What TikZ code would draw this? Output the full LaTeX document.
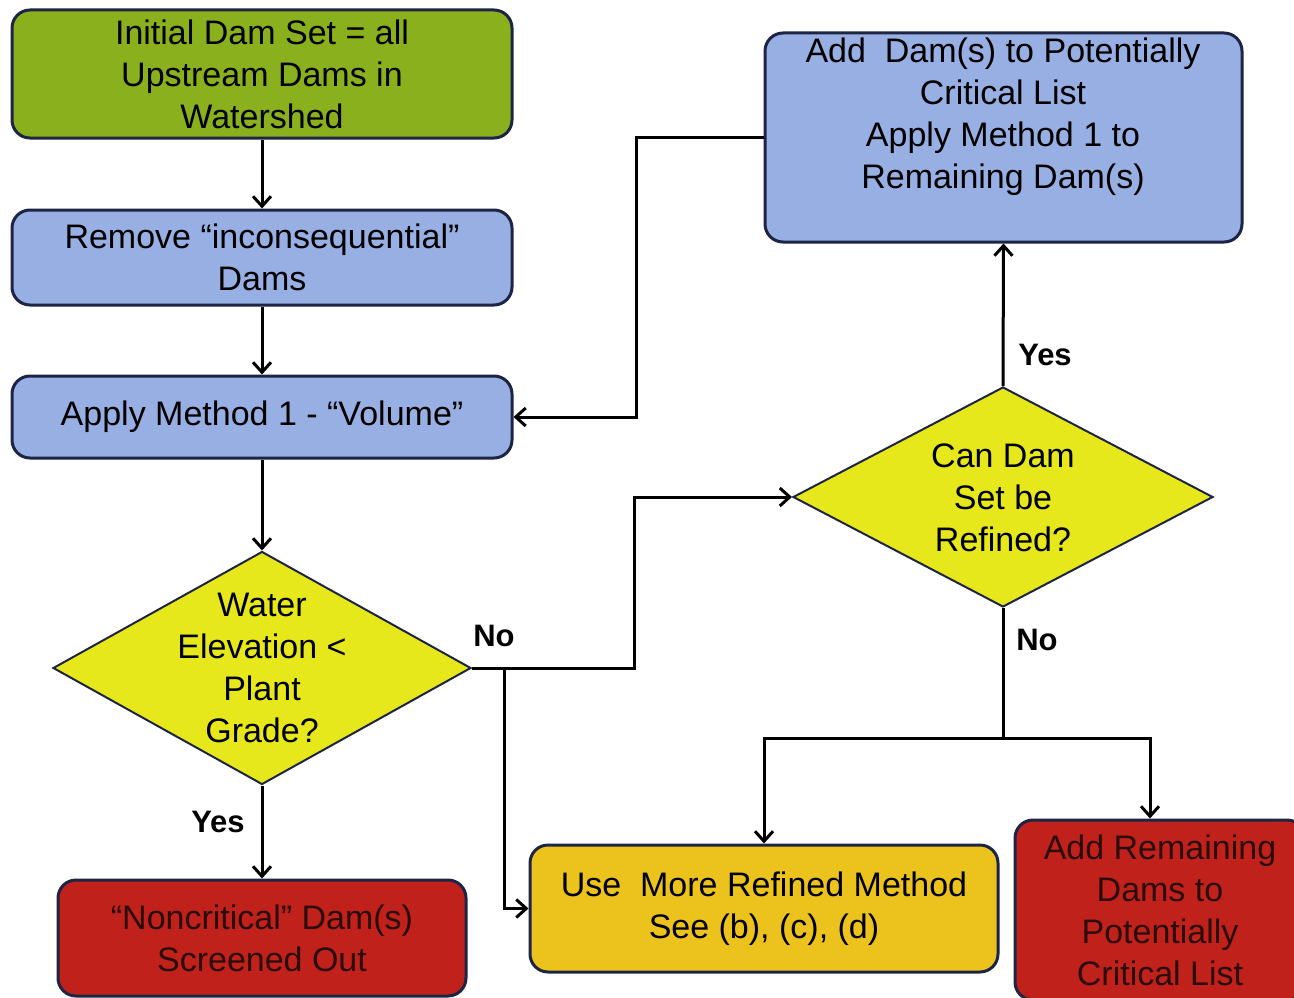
\documentclass[tikz,border=0pt]{standalone}
\usepackage{fontspec}
\setmainfont{Liberation Sans}
\usetikzlibrary{shapes.geometric,arrows.meta}
\definecolor{grn}{HTML}{8BB01E}
\definecolor{blu}{HTML}{98AFE3}
\definecolor{yel}{HTML}{E6E81C}
\definecolor{gold}{HTML}{ECC31C}
\definecolor{rd}{HTML}{C0211B}
\definecolor{bord}{HTML}{1E2444}
\definecolor{dtx}{HTML}{2A0C0A}
\begin{document}
\begin{tikzpicture}[x=1pt,y=-1pt,
  box/.style={rectangle, rounded corners=18pt, draw=bord, line width=3pt, inner sep=0pt,
    align=center, font=\fontsize{34pt}{42pt}\selectfont},
  dia/.style={diamond, draw=bord, line width=2pt, fill=yel, inner sep=0pt},
  dtext/.style={align=center, font=\fontsize{34pt}{42pt}\selectfont, inner sep=0pt},
  arr/.style={line width=3pt, -{Straight Barb[length=10pt,width=18pt]}},
  ln/.style={line width=3pt},
  lab/.style={font=\fontsize{31pt}{36pt}\selectfont\bfseries, inner sep=0pt}]
\useasboundingbox[fill=white] (0,0) rectangle (1294,998);

\node[box, fill=grn, minimum width=500pt, minimum height=128pt] (init) at (262,74)
  {Initial Dam Set = all\\Upstream Dams in\\Watershed};
\node[box, fill=blu, minimum width=500pt, minimum height=95pt] (remove) at (262,257.5)
  {Remove “inconsequential”\\Dams};
\node[box, fill=blu, minimum width=500pt, minimum height=82pt] (apply) at (262,417)
  {Apply Method 1 - “Volume”};
\node[dia, minimum width=418pt, minimum height=233pt] (d1) at (262,668) {};
\node[dtext] (d1t) at (262,668) {Water\\Elevation <\\Plant\\Grade?};
\node[box, fill=rd, minimum width=408pt, minimum height=116pt, text=dtx] (noncrit) at (262,938)
  {“Noncritical” Dam(s)\\Screened Out};
\node[box, fill=gold, minimum width=468pt, minimum height=127pt] (use) at (764,908.5)
  {Use\ \ More Refined Method\\See (b), (c), (d)};
\node[box, fill=rd, minimum width=290pt, minimum height=180pt, text=dtx] (addrem) at (1160,910)
  {Add Remaining\\Dams to\\Potentially\\Critical List};
\node[box, fill=blu, minimum width=477pt, minimum height=209pt] (top) at (1003.5,137.5) {};
\node[dtext] (topt) at (1003,117)
  {Add\ \ Dam(s) to Potentially\\Critical List\\Apply Method 1 to\\Remaining Dam(s)};
\node[dia, minimum width=420pt, minimum height=220pt] (d2) at (1003,497) {};
\node[dtext] (d2t) at (1003,498) {Can Dam\\Set be\\Refined?};

\draw[arr] (init.south) -- (remove.north);
\draw[arr] (remove.south) -- (apply.north);
\draw[arr] (apply.south) -- (d1.north);
\draw[arr] (d1.south) -- (noncrit.north);
\node[lab] (yes1) at (218,822) {Yes};
\draw[arr] (d1.east) -- ++(162,0) |- (d2.west);
\node[lab] (no1) at (494,636) {No};
\draw[arr] ([xshift=32pt]d1.east) |- (use.west);
\draw[arr] (d2.north) -- (top.south);
\node[lab] (yes2) at (1045,355) {Yes};
\draw[arr] (top.west) -- ++(-127,0) |- (apply.east);
\draw[ln] (d2.south) -- (1003,738) coordinate (split);
\node[lab] (no2) at (1037,640) {No};
\draw[arr] (split) -| (use.north);
\draw[arr] (split) -| ([xshift=-10pt]addrem.north);
\end{tikzpicture}
\end{document}
